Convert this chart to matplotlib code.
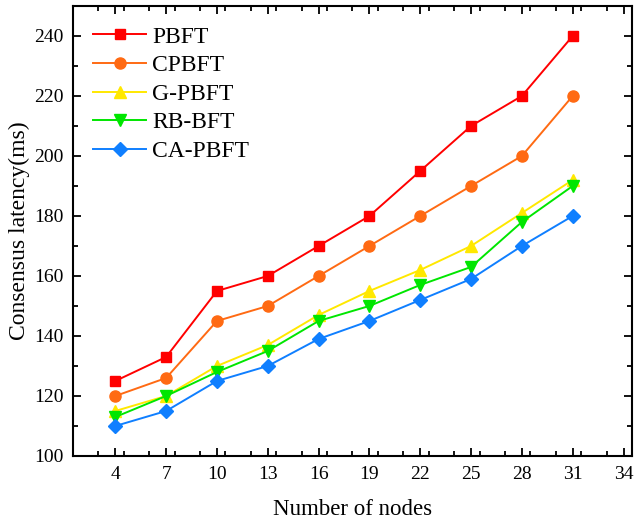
import numpy as np
import matplotlib
matplotlib.use("Agg")
import matplotlib.pyplot as plt
from matplotlib.ticker import MultipleLocator

nodes = [4, 7, 10, 13, 16, 19, 22, 25, 28, 31]
pbft = [125, 133, 155, 160, 170, 180, 195, 210, 220, 240]
cpbft = [120, 126, 145, 150, 160, 170, 180, 190, 200, 220]
gpbft = [115, 120, 130, 137, 147, 155, 162, 170, 181, 192]
rbbft = [113, 120, 128, 135, 145, 150, 157, 163, 178, 190]
capbft = [110, 115, 125, 130, 139, 145, 152, 159, 170, 180]
labels = ["PBFT", "CPBFT", "G-PBFT", "RB-BFT", "CA-PBFT"]

# colors / markers per series
STYLE = [
    ("#ff0000", "s", 7.5),
    ("#ff6a13", "o", 8),
    ("#ffe800", "^", 8.5),
    ("#00e600", "v", 8.5),
    ("#0f7fff", "D", 7.5),
]

plt.rcParams["font.family"] = ["Liberation Serif", "DejaVu Serif"]

fig = plt.figure(figsize=(6.34, 5.24), dpi=100)
ax = fig.add_axes([0.1151, 0.1298, 0.8817, 0.8588])

for ys, lab, (c, m, ms) in zip([pbft, cpbft, gpbft, rbbft, capbft], labels, STYLE):
    ax.plot(nodes, ys, color=c, marker=m, markersize=ms,
            linewidth=1.4, label=lab)

ax.set_xlim(1.5, 34.5)
ax.set_ylim(100, 250)
ax.set_xticks(np.arange(4, 35, 3))
ax.xaxis.set_minor_locator(MultipleLocator(1.5))
ax.yaxis.set_major_locator(MultipleLocator(20))
ax.yaxis.set_minor_locator(MultipleLocator(10))
ax.tick_params(which="both", direction="in", top=True, right=True,
               labelsize=14, width=1.3, pad=7)
ax.tick_params(which="major", length=6)
ax.tick_params(which="minor", length=3.5)
for s in ax.spines.values():
    s.set_linewidth(1.5)

ax.set_xlabel("Number of nodes", fontsize=16.5, labelpad=12)
ax.set_ylabel("Consensus latency(ms)", fontsize=17, labelpad=2.5)

ax.legend(loc="upper left", frameon=False, fontsize=17, handlelength=2.25,
          labelspacing=0.3, borderaxespad=0.45, handletextpad=0.25)

fig.savefig("out.png", dpi=100)
